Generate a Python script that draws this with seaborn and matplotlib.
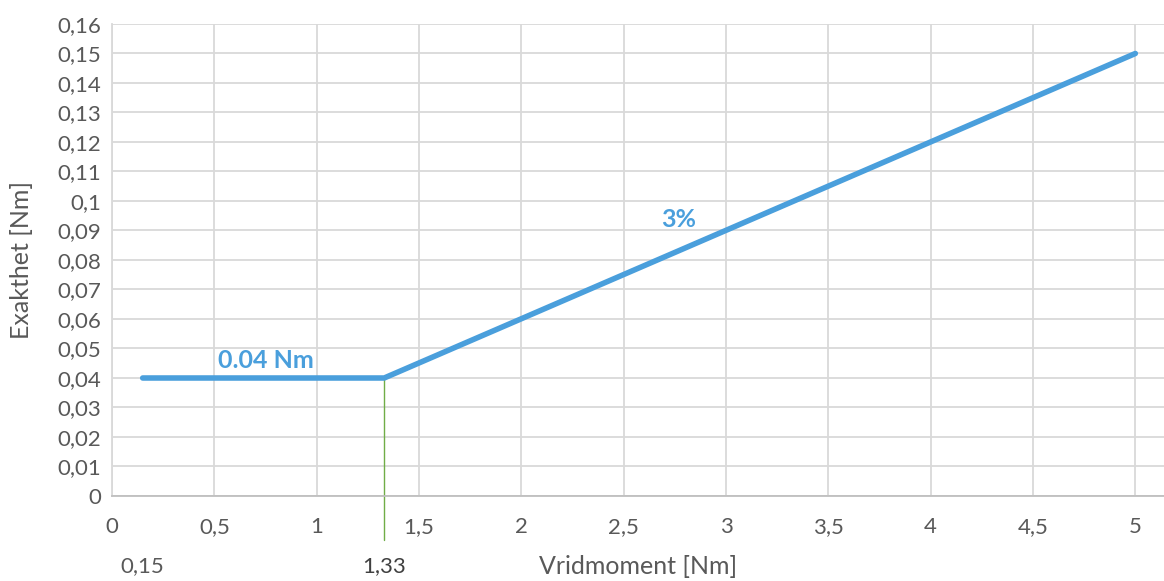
import matplotlib
matplotlib.use("Agg")
import matplotlib.pyplot as plt
import seaborn as sns
import pandas as pd

# data
torque = [0.15, 1.33, 5.0]
accuracy = [0.04, 0.04, 0.15]
x_ticks = [0, 0.5, 1, 1.5, 2, 2.5, 3, 3.5, 4, 4.5, 5]
y_ticks = [0, 0.01, 0.02, 0.03, 0.04, 0.05, 0.06, 0.07, 0.08, 0.09, 0.10,
           0.11, 0.12, 0.13, 0.14, 0.15, 0.16]
extra_marks = [0.15, 1.33]

df = pd.DataFrame({"Vridmoment": torque, "Exakthet": accuracy})

sns.set_style("whitegrid")
plt.rcParams["font.family"] = ["Lato", "DejaVu Sans"]

def comma(v):
    s = f"{v:g}"
    return s.replace(".", ",")

blue = "#4a9fdc"
grey_txt = "#595959"

fig = plt.figure(figsize=(11.64, 5.81), dpi=100)
ax = fig.add_axes([0.0962, 0.1463, 0.9038, 0.8124])

sns.lineplot(data=df, x="Vridmoment", y="Exakthet", color=blue, lw=4.0,
             solid_capstyle="round", solid_joinstyle="round", ax=ax, zorder=3)

# green marker line at 1.33
ax.plot([extra_marks[1], extra_marks[1]], [accuracy[1], -0.015], color="#70ad47",
        lw=1.0, clip_on=False, zorder=2)

ax.set_xlim(0, 5.14)
ax.set_ylim(0, 0.16)
ax.set_xticks(x_ticks)
ax.set_yticks(y_ticks)
ax.set_xticklabels([comma(v) for v in x_ticks])
ax.set_yticklabels([comma(round(v, 2)) for v in y_ticks])
ax.tick_params(axis="both", labelsize=16, colors=grey_txt, length=0)
ax.tick_params(axis="x", pad=15)
ax.tick_params(axis="y", pad=8)

ax.grid(True, color="#d9d9d9", lw=1.3)
for s in ["top", "right"]:
    ax.spines[s].set_visible(False)
ax.spines["left"].set_color("#d9d9d9")
ax.spines["left"].set_linewidth(1.3)
ax.spines["bottom"].set_color("#bfbfbf")
ax.spines["bottom"].set_linewidth(1.3)

for v in extra_marks:
    ax.text(v, -0.0236, comma(v), ha="center", va="center", fontsize=16,
            color=grey_txt if v < 1 else "#404040", clip_on=False)

ax.set_xlabel("Vridmoment [Nm]", fontsize=18, color=grey_txt)
ax.xaxis.set_label_coords(0.5, -0.125)
ax.set_ylabel("Exakthet [Nm]", fontsize=18, color=grey_txt)
ax.yaxis.set_label_coords(-0.075, 0.5)

ax.text(0.75, 0.0458, "0.04 Nm", color=blue, fontsize=18,
        fontweight="bold", ha="center", va="center")
ax.text(2.77, 0.0936, "3%", color=blue, fontsize=18, fontweight="bold",
        ha="center", va="center")

fig.savefig("out.png", dpi=100)
